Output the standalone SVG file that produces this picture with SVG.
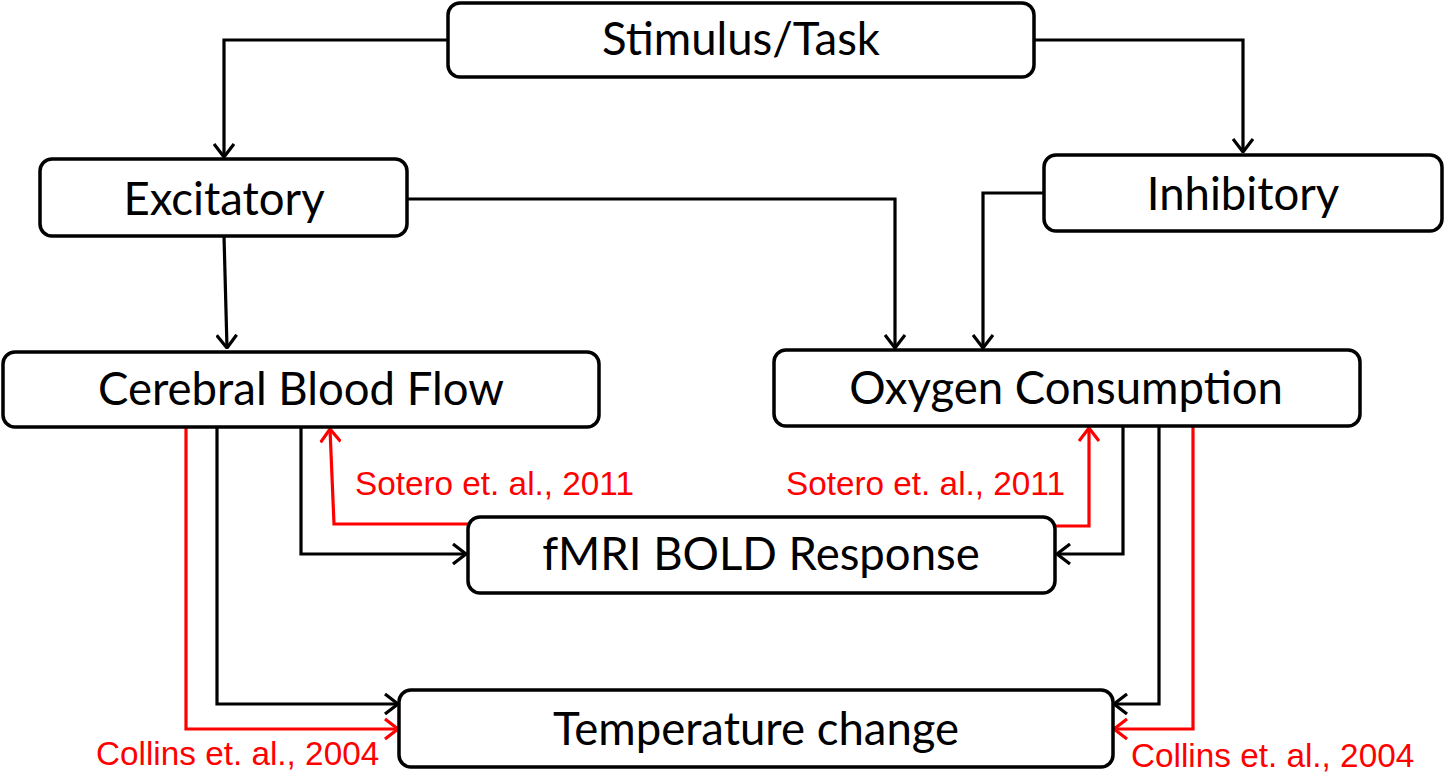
<svg xmlns="http://www.w3.org/2000/svg" width="1450" height="783" viewBox="0 0 1450 783">
<defs>
<style>
.box{fill:#fff;stroke:#000;stroke-width:3.5}
.lbl{font-family:Lato,"Open Sans","Liberation Sans",sans-serif;font-size:45.5px;fill:#000;text-anchor:middle}
.ref{font-family:"Liberation Sans",Arial,sans-serif;font-size:33.3px;fill:#ff0000}
.k{fill:none;stroke:#000;stroke-width:3.2;marker-end:url(#ak)}
.r{fill:none;stroke:#ff0000;stroke-width:3.2;marker-end:url(#ar)}
</style>
<marker id="ak" viewBox="0 0 15 22" refX="14" refY="11" markerWidth="15" markerHeight="22" markerUnits="userSpaceOnUse" orient="auto">
<path d="M1,1 L14,11 L1,21" fill="none" stroke="#000" stroke-width="3.2"/>
</marker>
<marker id="ar" viewBox="0 0 15 22" refX="14" refY="11" markerWidth="15" markerHeight="22" markerUnits="userSpaceOnUse" orient="auto">
<path d="M1,1 L14,11 L1,21" fill="none" stroke="#ff0000" stroke-width="3.2"/>
</marker>
</defs>
<rect width="1450" height="783" fill="#fff"/>
<g id="connectors">
<polyline class="k" points="448,40 224,40 224,157"/>
<polyline class="k" points="1034,40 1243,40 1243,152"/>
<polyline class="k" points="224,236 227,348"/>
<polyline class="k" points="407,199 895,199 895,348"/>
<polyline class="k" points="1044,193 983,193 983,348"/>
<polyline class="k" points="301,427 301,554 466,554"/>
<polyline class="r" points="468,524 334,524 330,429"/>
<polyline class="k" points="1123,426 1123,554 1057,554"/>
<polyline class="r" points="1055,526 1089,526 1089,428"/>
<polyline class="k" points="217,427 217,704 398,704"/>
<polyline class="r" points="186,427 186,729 398,729"/>
<polyline class="k" points="1159,426 1159,704 1114,704"/>
<polyline class="r" points="1193,426 1193,729 1114,729"/>
</g>
<g id="stimulus"><rect class="box" x="448" y="3" width="586" height="74" rx="12"/><text class="lbl" x="741" y="55">Stimulus/Task</text></g>
<g id="excitatory"><rect class="box" x="40" y="159" width="367" height="77" rx="12"/><text class="lbl" x="224" y="215">Excitatory</text></g>
<g id="inhibitory"><rect class="box" x="1044" y="155" width="398" height="76" rx="12"/><text class="lbl" x="1243" y="210">Inhibitory</text></g>
<g id="cbf"><rect class="box" x="3" y="352" width="596" height="75" rx="12"/><text class="lbl" x="301" y="405">Cerebral Blood Flow</text></g>
<g id="oxygen"><rect class="box" x="774" y="350" width="586" height="76" rx="12"/><text class="lbl" x="1066" y="404">Oxygen Consumption</text></g>
<g id="bold"><rect class="box" x="468" y="517" width="587" height="76" rx="12"/><text class="lbl" x="761" y="570">fMRI BOLD Response</text></g>
<g id="temperature"><rect class="box" x="399" y="690" width="714" height="77" rx="12"/><text class="lbl" x="756" y="745">Temperature change</text></g>
<g id="refs">
<text class="ref" x="355" y="495">Sotero et. al., 2011</text>
<text class="ref" x="786" y="495">Sotero et. al., 2011</text>
<text class="ref" x="96" y="765">Collins et. al., 2004</text>
<text class="ref" x="1131" y="767">Collins et. al., 2004</text>
</g>
</svg>
